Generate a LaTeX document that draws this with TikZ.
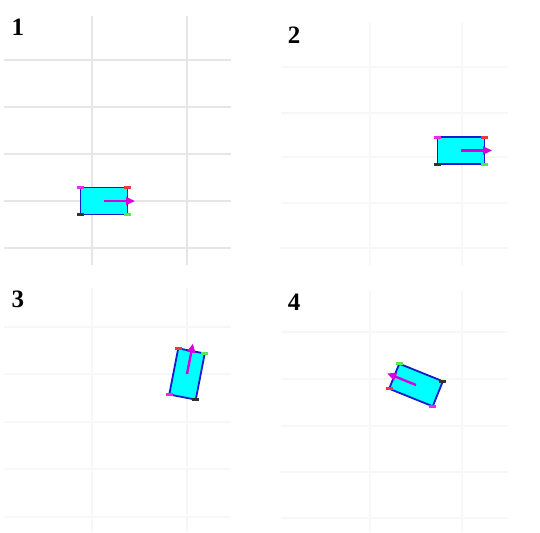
\documentclass[tikz,border=0pt]{standalone}
\usepackage{fontspec}
\setmainfont{Liberation Serif}
\usepackage{xcolor}
\usetikzlibrary{arrows.meta}
\definecolor{carfill}{RGB}{0,255,255}
\definecolor{carline}{RGB}{25,25,205}
\definecolor{headcol}{RGB}{215,0,220}
\definecolor{gridA}{RGB}{230,230,230}
\definecolor{gridB}{RGB}{247,247,247}
\definecolor{tickblack}{RGB}{50,50,50}
\definecolor{tickgreen}{RGB}{90,230,90}
\definecolor{tickred}{RGB}{230,60,60}
\definecolor{tickmag}{RGB}{235,40,235}
% grid of one panel: colour, x0, x1, y0, y1, vertical lines, horizontal lines
\newcommand{\gridlines}[7]{%
  \foreach \gx in {#6} \draw[#1, line width=1.2pt] (\gx,#4) -- (\gx,#5);
  \foreach \gy in {#7} \draw[#1, line width=1.2pt] (#2,\gy) -- (#3,\gy);}
% one vehicle: name, x, y, heading in degrees
\newcommand{\vehicle}[4]{%
  \begin{scope}[shift={(#2,#3)}, rotate=#4]
    \draw[body] (-23.5,-13.5) rectangle (23.5,13.5);
    \coordinate (#1fl) at (23.5,-13.5);
    \coordinate (#1fr) at (23.5,13.5);
    \coordinate (#1rl) at (-23.5,-13.5);
    \coordinate (#1rr) at (-23.5,13.5);
    \draw[headarrow] (0,0) -- (31,0);
  \end{scope}
  \draw[corner, tickred] ([xshift=-3.5pt]#1fl) -- ([xshift=3.5pt]#1fl);
  \draw[corner, tickgreen] ([xshift=-3.5pt]#1fr) -- ([xshift=3.5pt]#1fr);
  \draw[corner, tickmag] ([xshift=-3.5pt]#1rl) -- ([xshift=3.5pt]#1rl);
  \draw[corner, tickblack] ([xshift=-3.5pt]#1rr) -- ([xshift=3.5pt]#1rr);}
\begin{document}
\begin{tikzpicture}[x=1pt, y=-1pt,
  body/.style={draw=carline, fill=carfill, line width=1.8pt},
  headarrow/.style={headcol, line width=2.4pt, -{Triangle[length=9pt, width=8pt]}},
  corner/.style={line width=3pt},
  panel/.style={font=\fontsize{25}{25}\selectfont\bfseries, inner sep=0pt}]
\useasboundingbox (0,0) rectangle (540,532);
% grids
\gridlines{gridA}{4}{231}{16}{265}{92,187}{60,107,154,201,248}
\gridlines{gridB}{281}{508}{23}{265}{370,462}{67,113,157,203,248}
\gridlines{gridB}{4}{231}{288}{532}{92,187}{327,374,422,469,517}
\gridlines{gridB}{281}{508}{290}{532}{370,462}{332,379,426,472,518}
% vehicles
\vehicle{a}{104}{201}{0}
\vehicle{b}{461}{150.5}{0}
\vehicle{c}{187}{374}{79}
\vehicle{d}{416}{385}{158}
% panel numbers
\node[panel] (lab1) at (18,27) {1};
\node[panel] (lab2) at (294,35) {2};
\node[panel] (lab3) at (18,299) {3};
\node[panel] (lab4) at (294,302) {4};
\end{tikzpicture}
\end{document}
